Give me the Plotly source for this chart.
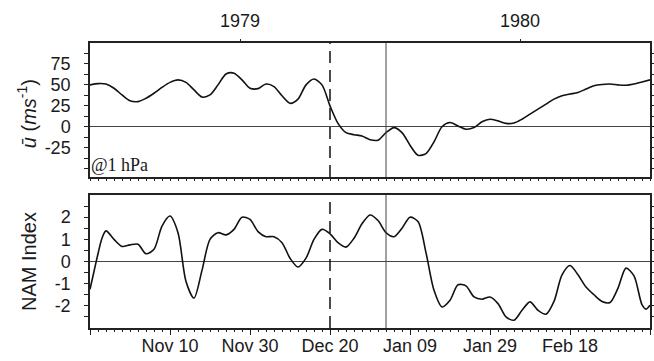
import pandas as pd
import plotly.graph_objects as go

START = "1979-10-21"

# zonal-mean wind at 1 hPa (m/s), day offsets from START
u_days = [0, 2, 4, 6, 8, 10, 12, 14, 16, 18, 20, 22, 24, 26, 28, 30, 32, 34, 36, 38,
          40, 42, 44, 46, 48, 50, 52, 54, 56, 58, 60, 62, 64, 66, 68, 70, 72, 74, 76, 78,
          80, 82, 84, 86, 88, 90, 92, 94, 96, 98, 100, 102, 104, 106, 108, 110, 112, 114,
          116, 118, 120, 122, 124, 126, 128, 130, 132, 134, 136, 138, 140]
u_vals = [50, 51.5, 51, 46, 38, 31, 30, 34, 40, 47, 53, 56, 53, 44, 35.5, 38, 50, 63, 64, 56,
          46, 45.5, 51, 48, 37, 28, 33, 50, 57, 50, 25, 4, -7, -9.5, -11, -15.5, -16, -7, -1, -7,
          -22, -34, -32, -18, 0, 5, 1, -3, -1, 6, 9, 7, 4, 4.5, 9, 15, 21, 27,
          33, 37, 39, 41, 45, 49, 50.5, 51, 50, 49.5, 51, 53.5, 56]

# NAM index, day offsets from START
nam_days = [0, 1, 2, 3, 4, 6, 8, 10, 12, 14, 16, 18, 20, 22, 24, 26, 28, 30, 32, 34, 36, 38,
            40, 42, 44, 46, 48, 50, 52, 54, 56, 58, 60, 62, 64, 66, 68, 70, 72, 74, 76, 78,
            80, 82, 84, 86, 88, 90, 92, 94, 96, 98, 100, 102, 104, 106, 108, 110, 112, 114,
            116, 118, 120, 122, 124, 126, 128, 130, 132, 134, 136, 138, 139, 140]
nam_vals = [-1.25, -0.45, 0.35, 1.05, 1.38, 1.0, 0.68, 0.75, 0.78, 0.35, 0.55, 1.6, 2.05, 1.3,
            -0.9, -1.65, -0.4, 1.0, 1.3, 1.2, 1.45, 2.0, 1.9, 1.35, 1.12, 1.12, 0.85, 0.15, -0.25,
            0.15, 1.0, 1.45, 1.25, 0.85, 0.65, 1.05, 1.7, 2.1, 1.85, 1.3, 1.12, 1.5, 2.0, 1.8,
            0.4, -1.3, -2.05, -1.75, -1.05, -1.1, -1.6, -1.7, -1.6, -1.9, -2.5, -2.65, -2.2,
            -1.82, -2.2, -2.38, -1.8, -0.6, -0.18, -0.6, -1.15, -1.5, -1.8, -1.85, -1.2, -0.3,
            -0.65, -1.95, -2.15, -1.97]

tick_dates = ["1979-10-21", "1979-11-10", "1979-11-30", "1979-12-20", "1980-01-09",
              "1980-01-29", "1980-02-18", "1980-03-09"]
tick_labels = ["", "Nov 10", "Nov 30", "Dec 20", "Jan 09", "Jan 29", "Feb 18", ""]
year_dates = ["1979-11-27 12:00", "1980-02-05 12:00"]
year_labels = ["1979", "1980"]
event_dashed = "1979-12-20"
event_solid = "1980-01-03"
x_range = ["1979-10-21", "1980-03-09"]

u_tickvals = [-50, -37.5, -25, -12.5, 0, 12.5, 25, 37.5, 50, 62.5, 75, 87.5]
u_ticktext = ["", "", "-25", "", "0", "", "25", "", "50", "", "75", ""]
u_range = [-60, 100]
nam_tickvals = [-2.5, -2, -1.5, -1, -0.5, 0, 0.5, 1, 1.5, 2, 2.5]
nam_ticktext = ["", "-2", "", "-1", "", "0", "", "1", "", "2", ""]
nam_range = [-3, 3]

t0 = pd.Timestamp(START)
u_x = [t0 + pd.Timedelta(days=d) for d in u_days]
nam_x = [t0 + pd.Timedelta(days=d) for d in nam_days]

SANS = "Liberation Sans, Arial, sans-serif"
SERIF = "Liberation Serif, Times New Roman, serif"
AX = "#222222"
TXT = "#1a1a1a"

fig = go.Figure()
fig.add_trace(go.Scatter(x=u_x, y=u_vals, mode="lines", xaxis="x", yaxis="y",
                         line=dict(color="#111111", width=1.6, shape="spline", smoothing=0.8),
                         showlegend=False, hoverinfo="skip"))
fig.add_trace(go.Scatter(x=nam_x, y=nam_vals, mode="lines", xaxis="x2", yaxis="y2",
                         line=dict(color="#111111", width=1.6, shape="spline", smoothing=0.8),
                         showlegend=False, hoverinfo="skip"))
# invisible trace to carry the top year axis
fig.add_trace(go.Scatter(x=[u_x[0]], y=[u_vals[0]], mode="lines", xaxis="x3", yaxis="y",
                         line=dict(width=0), showlegend=False, hoverinfo="skip"))

xcommon = dict(type="date", range=x_range, showgrid=False, zeroline=False, automargin=False,
               showline=True, linecolor=AX, linewidth=1.5, mirror=True,
               ticks="outside", ticklen=5, tickcolor=AX, tickwidth=1,
               tickmode="array", tickvals=tick_dates,
               minor=dict(ticks="outside", ticklen=2, tickcolor=AX, dtick=2 * 86400000,
                          tick0=START, showgrid=False),
               tickfont=dict(family=SANS, size=18, color=TXT))
ycommon = dict(showgrid=False, zeroline=True, zerolinecolor="#444", zerolinewidth=1,
               automargin=False,
               showline=True, linecolor=AX, linewidth=1.5, mirror="ticks",
               ticks="outside", ticklen=4, tickcolor=AX, tickmode="array",
               tickfont=dict(family=SANS, size=18, color=TXT), ticklabelstandoff=10)

fig.update_layout(
    width=654, height=361,
    margin=dict(l=90, r=4, t=43, b=33),
    paper_bgcolor="white", plot_bgcolor="white",
    xaxis=dict(xcommon, domain=[0, 1], anchor="y", ticktext=[""] * len(tick_dates),
               showticklabels=False),
    xaxis2=dict(xcommon, domain=[0, 1], anchor="y2", matches="x", ticktext=tick_labels,
                ticklabelstandoff=-4),
    xaxis3=dict(type="date", range=x_range, overlaying="x", side="top", anchor="y",
                automargin=False,
                showgrid=False, zeroline=False, showline=False, ticks="outside", ticklen=3,
                tickcolor=AX, tickmode="array", tickvals=year_dates, ticktext=year_labels,
                tickfont=dict(family=SANS, size=18, color=TXT), ticklabelstandoff=5),
    yaxis=dict(ycommon, domain=[0.5298, 1], anchor="x", range=u_range,
               tickvals=u_tickvals, ticktext=u_ticktext),
    yaxis2=dict(ycommon, domain=[0, 0.4667], anchor="x2", range=nam_range,
                tickvals=nam_tickvals, ticktext=nam_ticktext),
)

# y-axis titles as rotated annotations (fixed positions)
fig.add_annotation(text="<i>ū</i> (<i>ms</i><sup>-1</sup>)", xref="paper", yref="y domain",
                   x=-0.114, y=0.47, xanchor="center", yanchor="middle", textangle=-90,
                   showarrow=False, font=dict(family=SANS, size=20, color=TXT))
fig.add_annotation(text="NAM Index", xref="paper", yref="y2 domain",
                   x=-0.108, y=0.5, xanchor="center", yanchor="middle", textangle=-90,
                   showarrow=False, font=dict(family=SANS, size=20, color=TXT))

for yref in ["y domain", "y2 domain"]:
    xr = "x" if yref.startswith("y ") else "x2"
    fig.add_shape(type="line", xref=xr, yref=yref, x0=event_dashed, x1=event_dashed, y0=0, y1=1,
                  line=dict(color="#111", width=1.5, dash="12px,7px"))
    fig.add_shape(type="line", xref=xr, yref=yref, x0=event_solid, x1=event_solid, y0=0, y1=1,
                  line=dict(color="#444", width=1))

fig.add_annotation(text="@1 hPa", xref="x domain", yref="y domain", x=0.0, y=0.0,
                   xanchor="left", yanchor="bottom", showarrow=False, xshift=-1,
                   font=dict(family=SERIF, size=18, color=TXT))

fig.write_html("out.html", config={"displayModeBar": False},
               post_script="document.body.style.margin='0';document.body.style.padding='0';")
